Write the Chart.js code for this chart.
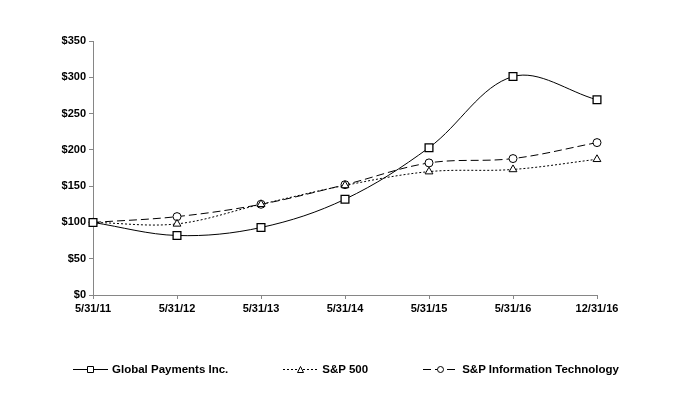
<!DOCTYPE html>
<html>
<head>
<meta charset="utf-8">
<script src="https://cdn.jsdelivr.net/npm/chart.js@4"></script>
<style>
  html, body { margin: 0; padding: 0; background: #fff; }
  #wrap { position: relative; width: 687px; height: 404px; }
  #legend { position: absolute; left: 73px; top: 362px; height: 14px; display: flex; align-items: center;
            font: bold 11.5px 'Liberation Sans', Arial, sans-serif; color: #000; white-space: nowrap; }
  #legend .item { display: flex; align-items: center; margin-right: 55px; }
  #legend canvas { margin-right: 4px; }
</style>
</head>
<body>
<div id="wrap">
  <canvas id="perfChart" width="687" height="404"></canvas>
  <div id="legend"></div>
</div>
<script>
const dates = ['5/31/11', '5/31/12', '5/31/13', '5/31/14', '5/31/15', '5/31/16', '12/31/16'];
const globalPayments = [100, 82, 93, 132, 203, 301, 269];
const sp500 = [100, 98, 125, 151, 170, 173, 187];
const spInfoTech = [100, 108, 125, 152, 182, 188, 210];
const yTicks = [0, 50, 100, 150, 200, 250, 300, 350];

const FONT = 'Liberation Sans, Arial, sans-serif';
const axisGray = '#868686';

// small picture for the legend: a line with the marker in the middle
function legendIcon(dash, shape) {
  const c = document.createElement('canvas');
  c.width = 35;
  c.height = 10;
  const g = c.getContext('2d');
  g.strokeStyle = '#000';
  g.lineWidth = 1;
  g.setLineDash(dash);
  g.beginPath();
  g.moveTo(0, 5.5);
  g.lineTo(35, 5.5);
  g.stroke();
  g.setLineDash([]);
  g.fillStyle = '#fff';
  g.beginPath();
  if (shape === 'rect') {
    g.rect(14.5, 2.5, 6, 6);
  } else if (shape === 'triangle') {
    g.moveTo(17.5, 2.5);
    g.lineTo(20.5, 8.5);
    g.lineTo(14.5, 8.5);
    g.closePath();
  } else {
    g.arc(17.5, 5.5, 3, 0, Math.PI * 2);
  }
  g.fill();
  g.stroke();
  return c;
}

const datasets = [{
  label: 'Global Payments Inc.',
  data: globalPayments,
  borderColor: '#000',
  borderWidth: 1,
  pointStyle: 'rect',
  pointRadius: 5.5,
  pointBorderWidth: 1.3,
  pointBackgroundColor: '#fff',
  pointBorderColor: '#000',
  tension: 0.35,
  dash: [],
  marker: 'rect'
}, {
  label: 'S&P 500',
  data: sp500,
  borderColor: '#000',
  borderWidth: 1,
  borderDash: [2, 2],
  pointStyle: 'triangle',
  pointRadius: 4.5,
  pointBorderWidth: 1,
  pointBackgroundColor: '#fff',
  pointBorderColor: '#000',
  tension: 0.35,
  dash: [2, 2],
  marker: 'triangle'
}, {
  label: 'S&P Information Technology',
  data: spInfoTech,
  borderColor: '#000',
  borderWidth: 1,
  borderDash: [8, 4],
  pointStyle: 'circle',
  pointRadius: 4,
  pointBorderWidth: 1,
  pointBackgroundColor: '#fff',
  pointBorderColor: '#000',
  tension: 0.35,
  dash: [8, 4],
  marker: 'circle'
}];

const legend = document.getElementById('legend');
datasets.forEach(ds => {
  const item = document.createElement('div');
  item.className = 'item';
  item.appendChild(legendIcon(ds.dash, ds.marker));
  const span = document.createElement('span');
  span.textContent = ds.label;
  item.appendChild(span);
  legend.appendChild(item);
});

const ctx = document.getElementById('perfChart').getContext('2d');
new Chart(ctx, {
  type: 'line',
  data: { labels: dates, datasets: datasets },
  options: {
    responsive: false,
    animation: false,
    layout: { padding: { top: 41, right: 90, left: 0, bottom: 65 } },
    plugins: {
      tooltip: { enabled: false },
      legend: { display: false }
    },
    scales: {
      x: {
        offset: false,
        border: { color: axisGray, width: 1 },
        grid: { display: true, drawOnChartArea: false, drawTicks: true, tickLength: 4, color: axisGray },
        ticks: { color: '#000', maxRotation: 0, padding: 3, font: { family: FONT, size: 11, weight: 'bold' } },
        afterFit: scale => { scale.height = 44; }
      },
      y: {
        min: 0,
        max: 350,
        afterBuildTicks: scale => { scale.ticks = yTicks.map(v => ({ value: v })); },
        border: { color: axisGray, width: 1 },
        grid: { display: true, drawOnChartArea: false, drawTicks: true, tickLength: 4, color: axisGray },
        ticks: {
          color: '#000',
          padding: 3,
          font: { family: FONT, size: 11, weight: 'bold' },
          callback: v => '$' + v
        },
        afterFit: scale => { scale.width = 93; }
      }
    }
  }
});
</script>
</body>
</html>
